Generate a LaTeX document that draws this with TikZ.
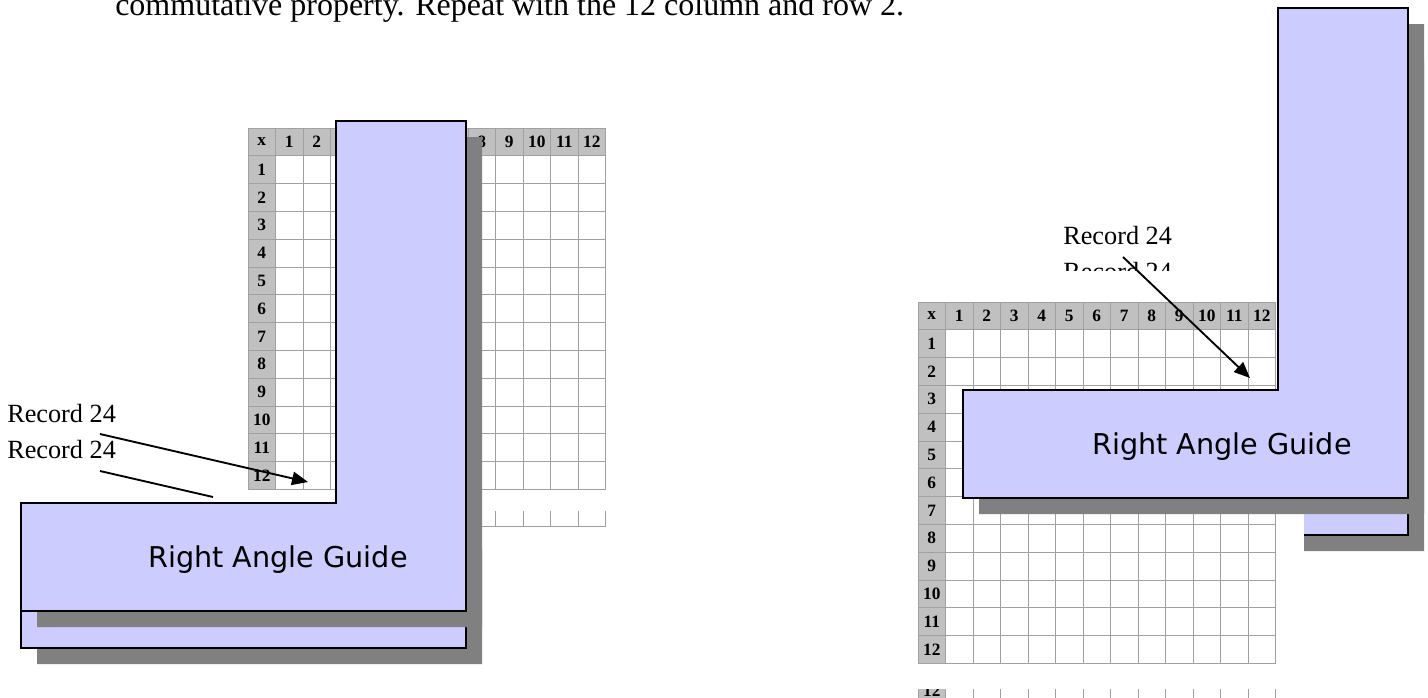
\documentclass[tikz,border=0pt]{standalone}
\usepackage{fontspec}
\setmainfont{Liberation Serif}
\newfontfamily\guidefont{DejaVu Sans}
\usetikzlibrary{arrows.meta}
\definecolor{guidelav}{HTML}{CCCCFF}
\definecolor{guideshade}{HTML}{808080}
\definecolor{cellgrey}{HTML}{C0C0C0}
\definecolor{gridgrey}{HTML}{A0A0A0}

\begin{document}
\begin{tikzpicture}[
  x=0.75pt, y=-0.75pt,
  every node/.style={inner sep=0pt},
  note/.style={anchor=base west, font=\fontsize{19.7}{22}\selectfont},
  numcell/.style={font=\fontsize{13}{13}\selectfont\bfseries},
  guidetext/.style={font=\guidefont\fontsize{21.5}{24}\selectfont},
  gridline/.style={draw=gridgrey, line width=0.75pt},
  pointer/.style={line width=1.4pt, -{Triangle[length=12pt,width=10pt]}},
  lshape/.pic={
    \fill[guideshade] (16,16) -- (331,16) -- (331,-366) -- (461,-366) -- (461,124) -- (16,124) -- cycle;
    \filldraw[fill=guidelav, draw=black, line width=1.5pt]
      (0,0) -- (315,0) -- (315,-382) -- (445,-382) -- (445,108) -- (0,108) -- cycle;
  }]
\useasboundingbox (0,0) rectangle (1428,697);
\clip (0,0) rectangle (1428,697);
\node[anchor=base west, font=\fontsize{24}{28}\selectfont] (intro) at (115,15)
  {commutative property. Repeat with the 12 column and row 2.};
\pic (backL) at (21,540) {lshape};
\pic (backR) at (963,427) {lshape};
\node[note] (recL1) at (7,422) {Record 24};
\node[note] (recL2) at (7,458) {Record 24};
\node[note] (recR1) at (1063,244) {Record 24};
\node[note] (recR2) at (1063,280) {Record 24};
\foreach \gn/\gx/\gy/\gap in {L/248/128/22, R/918/302/26} {
  \begin{scope}[shift={(\gx,\gy)}]
    \fill[white] (-25,-31) rectangle (386,420);
    \fill[cellgrey] (0,0) rectangle (357.5,27.8);
    \fill[cellgrey] (0,0) rectangle (27.5,361.4);
    \foreach \k in {0,...,13} {
      \draw[gridline] (\k*27.5,0) -- (\k*27.5,361.4);
      \draw[gridline] (0,\k*27.8) -- (357.5,\k*27.8);
    }
    \node[numcell] (\gn-hx) at (13.75,13.9) {x};
    \foreach \i in {1,...,12} {
      \node[numcell] (\gn-h\i) at (13.75+\i*27.5,13.9) {\i};
      \node[numcell] (\gn-r\i) at (13.75,13.9+\i*27.8) {\i};
    }
    \begin{scope}
      \clip (-1,361.4+\gap) rectangle (359,377.5+\gap);
      \fill[cellgrey] (0,348.6+\gap) rectangle (27.5,376.4+\gap);
      \node[numcell] (\gn-tail) at (13.75,362.5+\gap) {12};
      \foreach \k in {0,...,13}
        \draw[gridline] (\k*27.5,361.4+\gap) -- (\k*27.5,376.4+\gap);
      \draw[gridline] (0,376.4+\gap) -- (357.5,376.4+\gap);
    \end{scope}
  \end{scope}
}
\pic (frontL) at (21,503) {lshape};
\pic (frontR) at (963,390) {lshape};
\node[guidetext] (guideL) at (278,560) {Right Angle Guide};
\node[guidetext] (guideR) at (1222,447) {Right Angle Guide};
\coordinate (tailL1) at (100,434);
\coordinate (tipL1) at (308,482);
\coordinate (tailL2) at (100,471);
\coordinate (endL2) at (213,497);
\coordinate (tailR1) at (1123,257);
\coordinate (tipR1) at (1250,378);
\draw[pointer] (tailL1) -- (tipL1);
\draw[line width=1.4pt] (tailL2) -- (endL2);
\draw[pointer] (tailR1) -- (tipR1);
\end{tikzpicture}
\end{document}
